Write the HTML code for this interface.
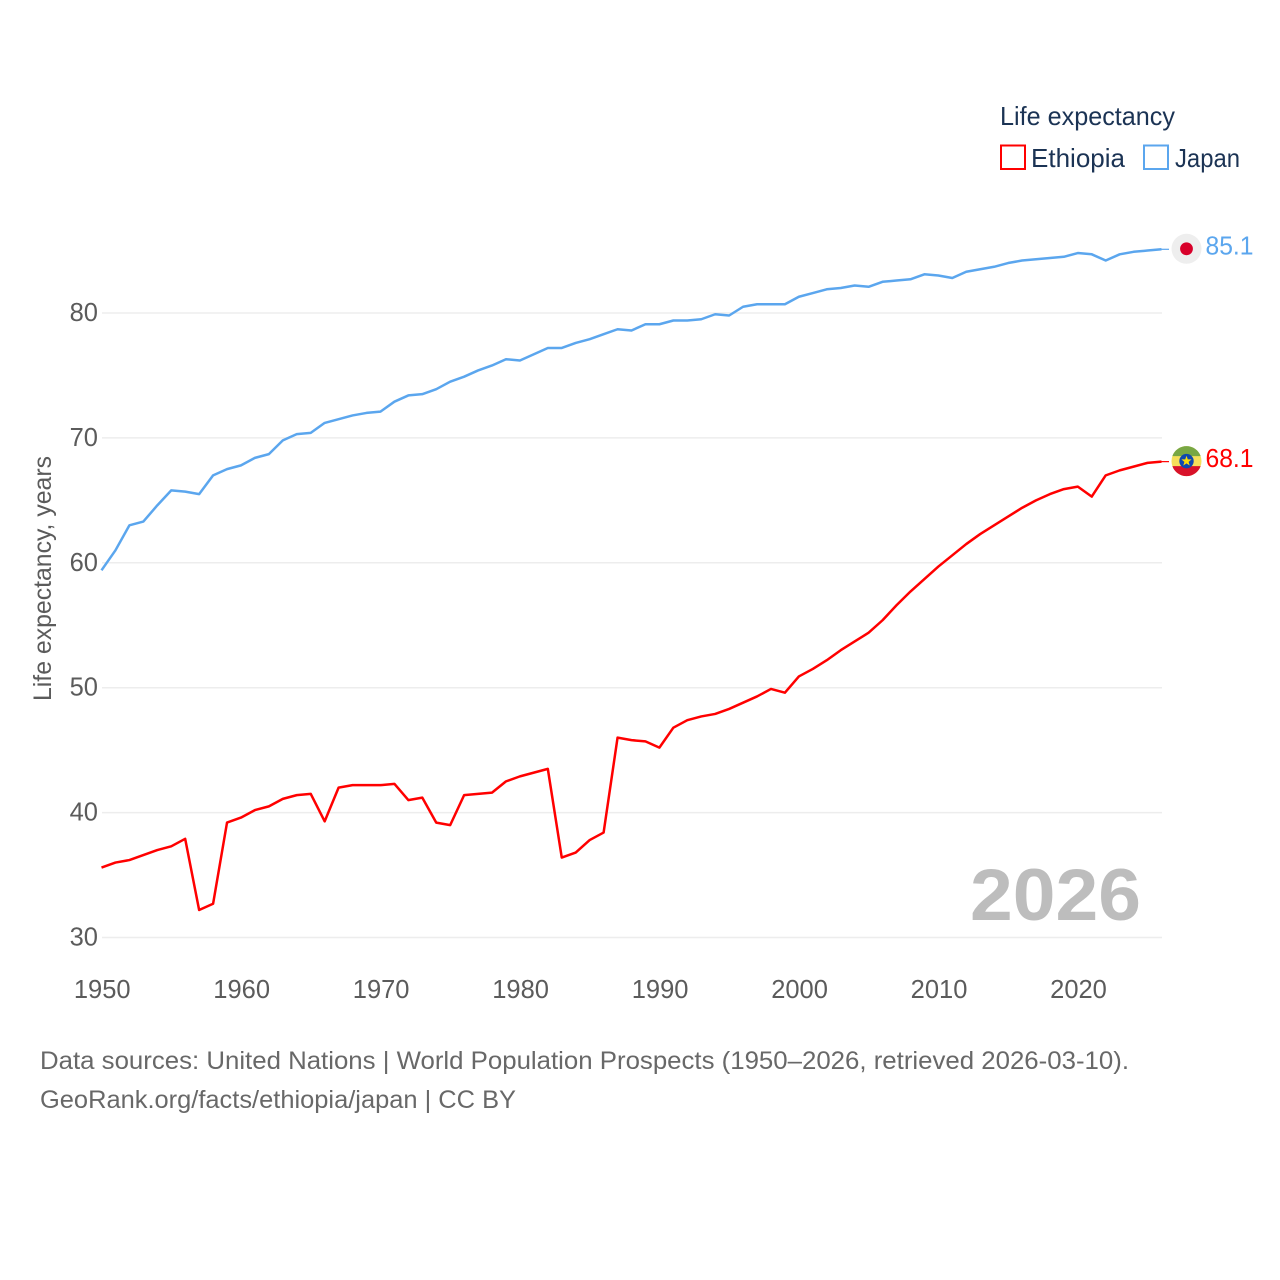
<!DOCTYPE html>
<html lang="en">
<head>
<meta charset="utf-8">
<title>Life expectancy: Ethiopia and Japan</title>
<style>
html,body{margin:0;padding:0;background:#fff;}
svg{display:block;}
text{font-family:"Liberation Sans",sans-serif;}
</style>
</head>
<body>
<svg id="chart" xmlns="http://www.w3.org/2000/svg" width="1280" height="1280" viewBox="0 0 1280 1280">
  <rect x="0" y="0" width="1280" height="1280" fill="#ffffff"/>
  <g id="grid"></g>
  <g id="yticks"></g>
  <g id="xticks"></g>
  <text transform="translate(51,701) rotate(-90)" font-size="25" fill="#5b5b5b" textLength="245" lengthAdjust="spacingAndGlyphs">Life expectancy, years</text>
  <text id="year-label" x="1141" y="920" text-anchor="end" font-size="73" font-weight="700" fill="#bdbdbd" textLength="171" lengthAdjust="spacingAndGlyphs"></text>
  <g id="series"></g>
  <g id="ends"></g>
  <g>
    <text x="1000" y="125" font-size="26" fill="#1b3354" textLength="175" lengthAdjust="spacingAndGlyphs">Life expectancy</text>
    <rect x="1001" y="145.5" width="24" height="23.5" fill="#ffffff" stroke="#ff0000" stroke-width="2"/>
    <text x="1031" y="167" font-size="26" fill="#1b3354" textLength="94" lengthAdjust="spacingAndGlyphs">Ethiopia</text>
    <rect x="1144" y="145.5" width="24" height="23.5" fill="#ffffff" stroke="#5ba6ee" stroke-width="2"/>
    <text x="1175" y="167" font-size="26" fill="#1b3354" textLength="65" lengthAdjust="spacingAndGlyphs">Japan</text>
  </g>
  <text x="40" y="1069" font-size="25" fill="#686868" textLength="1089" lengthAdjust="spacingAndGlyphs">Data sources: United Nations | World Population Prospects (1950–2026, retrieved 2026-03-10).</text>
  <text x="40" y="1108" font-size="25" fill="#686868" textLength="476" lengthAdjust="spacingAndGlyphs">GeoRank.org/facts/ethiopia/japan | CC BY</text>
</svg>
<script>
const startYear = 1950;
const endYear = 2026;
const yTicks = [30, 40, 50, 60, 70, 80];
const xTicks = [1950, 1960, 1970, 1980, 1990, 2000, 2010, 2020];
const japanValues = [
  59.4, 61.0, 63.0, 63.3, 64.6, 65.8, 65.7, 65.5, 67.0, 67.5,
  67.8, 68.4, 68.7, 69.8, 70.3, 70.4, 71.2, 71.5, 71.8, 72.0,
  72.1, 72.9, 73.4, 73.5, 73.9, 74.5, 74.9, 75.4, 75.8, 76.3,
  76.2, 76.7, 77.2, 77.2, 77.6, 77.9, 78.3, 78.7, 78.6, 79.1,
  79.1, 79.4, 79.4, 79.5, 79.9, 79.8, 80.5, 80.7, 80.7, 80.7,
  81.3, 81.6, 81.9, 82.0, 82.2, 82.1, 82.5, 82.6, 82.7, 83.1,
  83.0, 82.8, 83.3, 83.5, 83.7, 84.0, 84.2, 84.3, 84.4, 84.5,
  84.8, 84.7, 84.2, 84.7, 84.9, 85.0, 85.1
];
const ethiopiaValues = [
  35.6, 36.0, 36.2, 36.6, 37.0, 37.3, 37.9, 32.2, 32.7, 39.2,
  39.6, 40.2, 40.5, 41.1, 41.4, 41.5, 39.3, 42.0, 42.2, 42.2,
  42.2, 42.3, 41.0, 41.2, 39.2, 39.0, 41.4, 41.5, 41.6, 42.5,
  42.9, 43.2, 43.5, 36.4, 36.8, 37.8, 38.4, 46.0, 45.8, 45.7,
  45.2, 46.8, 47.4, 47.7, 47.9, 48.3, 48.8, 49.3, 49.9, 49.6,
  50.9, 51.5, 52.2, 53.0, 53.7, 54.4, 55.4, 56.6, 57.7, 58.7,
  59.7, 60.6, 61.5, 62.3, 63.0, 63.7, 64.4, 65.0, 65.5, 65.9,
  66.1, 65.3, 67.0, 67.4, 67.7, 68.0, 68.1
];

const NS = 'http://www.w3.org/2000/svg';
const plotLeft = 101.5, plotRight = 1161.5;
const gridLeft = 102, gridRight = 1162;
const y30 = 937.5, y80 = 313;

function xScale(year) {
  return plotLeft + (year - startYear) * (plotRight - plotLeft) / (endYear - startYear);
}
function yScale(value) {
  return y30 - (value - 30) * (y30 - y80) / 50;
}
function make(tag, parent, attrs) {
  const el = document.createElementNS(NS, tag);
  for (const k in attrs) el.setAttribute(k, attrs[k]);
  parent.appendChild(el);
  return el;
}

const gridG = document.getElementById('grid');
const yG = document.getElementById('yticks');
yTicks.forEach(function (t) {
  const line = make('line', gridG, { x1: gridLeft, x2: gridRight, y1: yScale(t), y2: yScale(t), stroke: '#ededed', 'stroke-width': 1.5 });
  
  
  const label = make('text', yG, { x: 98, y: yScale(t) + 8, 'text-anchor': 'end', 'font-size': 25.5, fill: '#5b5b5b' });
  
  
  label.textContent = t;
});

const xG = document.getElementById('xticks');
xTicks.forEach(function (t) {
  const label = make('text', xG, { x: xScale(t) + 0.7, y: 998, 'text-anchor': 'middle', 'font-size': 25.5, fill: '#5b5b5b' });
  
  
  label.textContent = t;
});

document.getElementById('year-label').textContent = endYear;

function linePoints(values) {
  return values.map(function (v, i) {
    return xScale(startYear + i).toFixed(2) + ',' + yScale(v).toFixed(2);
  }).join(' ');
}

const seriesG = document.getElementById('series');
const japanLine = make('polyline', seriesG, { points: linePoints(japanValues), fill: 'none', stroke: '#5ba6ee', 'stroke-width': 2.5, 'stroke-linejoin': 'round' });


const ethiopiaLine = make('polyline', seriesG, { points: linePoints(ethiopiaValues), fill: 'none', stroke: '#ff0000', 'stroke-width': 2.5, 'stroke-linejoin': 'round' });



const endsG = document.getElementById('ends');
const flagX = 1186.5;

/* Japan end marker */
const japanLast = japanValues[japanValues.length - 1];
const japanY = yScale(japanLast);
const japanConn = make('line', endsG, { x1: plotRight, x2: 1169, y1: japanY, y2: japanY, stroke: '#5ba6ee', 'stroke-width': 1.2 });


const japanFlag = make('g', endsG, { transform: 'translate(' + flagX + ',' + (japanY - 0.5) + ')' });


make('circle', japanFlag, { cx: 0, cy: 0, r: 15, fill: '#eeeeee' });
make('circle', japanFlag, { cx: 0, cy: 0, r: 6.4, fill: '#d8002a' });
const japanVal = make('text', endsG, { x: 1205.5, y: japanY + 5, 'font-size': 25.5, fill: '#5ba6ee', textLength: 48, lengthAdjust: 'spacingAndGlyphs' });


japanVal.textContent = japanLast.toFixed(1);

/* Ethiopia end marker */
const ethLast = ethiopiaValues[ethiopiaValues.length - 1];
const ethY = yScale(ethLast);
const ethConn = make('line', endsG, { x1: plotRight, x2: 1169, y1: ethY, y2: ethY, stroke: '#ff0000', 'stroke-width': 1.2 });


const ethFlag = make('g', endsG, { transform: 'translate(' + flagX + ',' + (ethY - 0.5) + ')' });


make('circle', ethFlag, { cx: 0, cy: 0, r: 15, fill: '#f5df5a' });
make('path', ethFlag, { d: 'M-14.14,-5 A15,15 0 0 1 14.14,-5 Z', fill: '#78a744' });
make('path', ethFlag, { d: 'M-14.14,5 A15,15 0 0 0 14.14,5 Z', fill: '#d8122a' });
make('circle', ethFlag, { cx: 0, cy: 0, r: 7.2, fill: '#0f47af' });
make('polygon', ethFlag, { points: '0,-5.4 1.3,-1.8 5.1,-1.7 2.1,0.7 3.2,4.4 0,2.2 -3.2,4.4 -2.1,0.7 -5.1,-1.7 -1.3,-1.8', fill: '#fcdd09' });
const ethVal = make('text', endsG, { x: 1205.5, y: ethY + 5.5, 'font-size': 25.5, fill: '#ff0000', textLength: 48, lengthAdjust: 'spacingAndGlyphs' });


ethVal.textContent = ethLast.toFixed(1);
</script>
</body>
</html>
